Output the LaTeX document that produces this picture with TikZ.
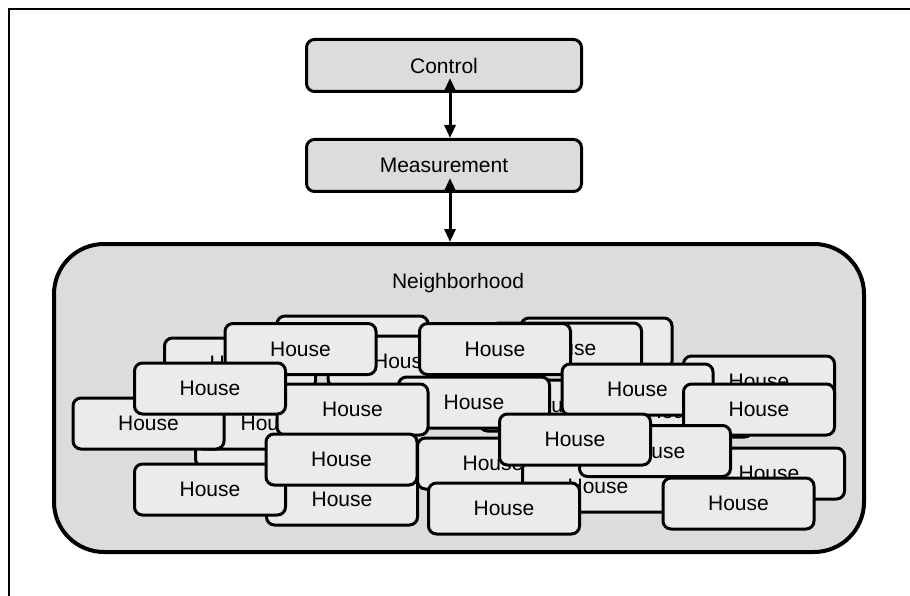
\documentclass[tikz,border=0pt]{standalone}
\usepackage{fontspec}
\setmainfont{Liberation Sans}
\usetikzlibrary{arrows.meta,calc}
\definecolor{boxgray}{HTML}{DCDCDC}
\definecolor{housegray}{HTML}{EBEBEB}
\begin{document}
\begin{tikzpicture}[x=1pt,y=-1pt,
  every node/.style={font=\fontsize{21}{25}\selectfont},
  topbox/.style={draw, line width=3pt, fill=boxgray, rounded corners=8pt,
    minimum width=275pt, minimum height=52pt, inner sep=0pt},
  house/.style={draw, line width=3pt, fill=housegray, rounded corners=8pt,
    minimum width=151pt, minimum height=51pt, inner sep=0pt},
  hoodbox/.style={draw, line width=4pt, fill=boxgray, rounded corners=50pt,
    minimum width=810pt, minimum height=308pt, inner sep=0pt},
  frameline/.style={line width=2.5pt},
  link/.style={line width=3pt,
    {Triangle[width=11pt,length=13pt]}-{Triangle[width=11pt,length=13pt]}},
]
\useasboundingbox (0,0) rectangle (910,596);
\clip (0,0) rectangle (910,596);

% outer frame
\draw[frameline] (9,605) -- (9,9) -- (920,9);

% hierarchy boxes
\node[topbox] (ctrl) at (444,65.5) {Control};
\node[topbox] (meas) at (444,165.5) {Measurement};
\node[hoodbox] (hood) at (459,398) {};
\node (hoodname) at (458,283) {Neighborhood};

% houses, back to front
\node[house] (h01) at (596.5,343.5) {House};
\node[house] (h02) at (352.5,341.5) {House};
\node[house] (h03) at (240,363.5) {House};
\node[house] (h04) at (271,441.5) {House};
\node[house] (h05) at (759,381.5) {House};
\node[house] (h06) at (677,411.5) {House};
\node[house] (h07) at (555,405.5) {House};
\node[house] (h08) at (403.5,361.5) {House};
\node[house] (h09) at (566,348.5) {House};
\node[house] (h10) at (300.5,349) {House};
\node[house] (h11) at (495,349) {House};
\node[house] (h12) at (271,423.5) {House};
\node[house] (h13) at (148.5,423.5) {House};
\node[house] (h14) at (474,402.5) {House};
\node[house] (h15) at (352.5,409.5) {House};
\node[house] (h16) at (210,388.5) {House};
\node[house] (h17) at (342,499.5) {House};
\node[house] (h18) at (210,489.5) {House};
\node[house] (h19) at (341.5,459.5) {House};
\node[house] (h20) at (493,463.5) {House};
\node[house] (h21) at (637.5,389.5) {House};
\node[house] (h22) at (759,409.5) {House};
\node[house] (h23) at (598,486.5) {House};
\node[house] (h24) at (769,473.5) {House};
\node[house] (h25) at (655,451) {House};
\node[house] (h26) at (575,439.5) {House};
\node[house] (h27) at (504,508.5) {House};
\node[house] (h28) at (738.5,503.5) {House};

% two-way links
\draw[link] ($(ctrl.south)+(6,-15)$) -- ($(meas.north)+(6,0)$);
\draw[link] ($(meas.south)+(6,-15)$) -- ($(hood.north)+(-9,0)$);
\end{tikzpicture}
\end{document}
